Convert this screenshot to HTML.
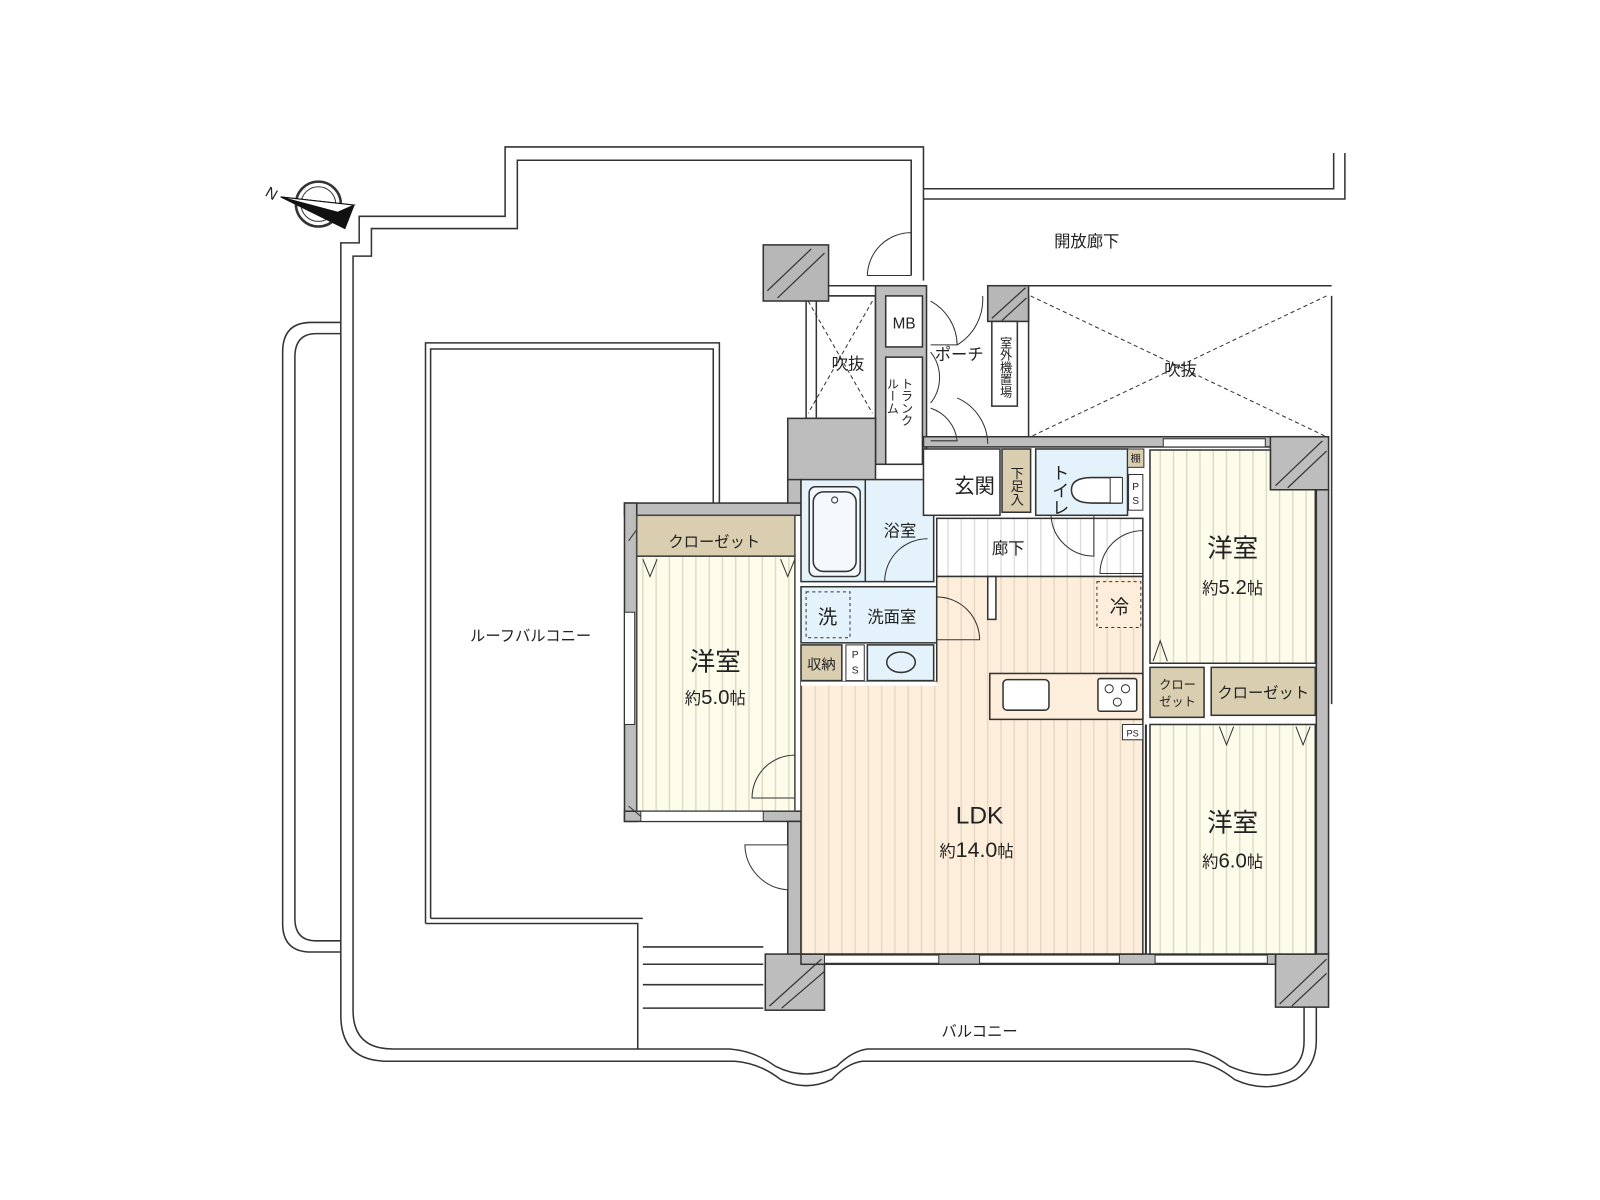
<!DOCTYPE html>
<html><head><meta charset="utf-8">
<style>
html,body{margin:0;padding:0;background:#fff;}
svg{display:block;}
text{font-family:"Liberation Sans","Noto Sans CJK JP",sans-serif;fill:#222;}
</style></head>
<body>
<svg width="1600" height="1200" viewBox="0 0 1600 1200" xmlns="http://www.w3.org/2000/svg">
<defs>
<pattern id="sc" width="13" height="20" patternUnits="userSpaceOnUse"><rect width="13" height="20" fill="#fdfbea"/><line x1="6" y1="0" x2="6" y2="20" stroke="#d9d5c0" stroke-width="1.2"/></pattern>
<pattern id="sp" width="13" height="20" patternUnits="userSpaceOnUse"><rect width="13" height="20" fill="#fdeedb"/><line x1="6" y1="0" x2="6" y2="20" stroke="#e2d3bf" stroke-width="1.2"/></pattern>
<pattern id="sw" width="13" height="20" patternUnits="userSpaceOnUse"><rect width="13" height="20" fill="#fff"/><line x1="6" y1="0" x2="6" y2="20" stroke="#d8d8d8" stroke-width="1.2"/></pattern>
<pattern id="hatch" width="10" height="10" patternUnits="userSpaceOnUse" patternTransform="rotate(45)"><rect width="10" height="10" fill="#bdbdbd"/></pattern>
</defs>
<g transform="scale(1.0204)" stroke="#333" stroke-width="1.5" fill="none">

<!-- compass -->
<circle cx="312" cy="200" r="22" stroke-width="2.5"/>
<circle cx="312" cy="200" r="17" stroke-width="1"/>
<polygon points="275,193 347,201 338,224" fill="#111" stroke="#111" stroke-width="1"/>
<polygon points="275,193 347,201 331,208" fill="#fff" stroke="#111" stroke-width="1"/>
<text x="262" y="192" font-size="15" stroke="none" transform="rotate(30 262 186)">N</text>

<!-- roof balcony outer double line -->
<path d="M905,275 L905,144 L495,144 L495,212 L352,212 L352,238 L334,238 L334,995 Q334,1040 380,1040 L720,1040 Q745,1042 765,1058 Q790,1070 815,1058 Q830,1042 845,1040 L1170,1040 Q1190,1042 1210,1058 Q1240,1072 1270,1058 Q1290,1045 1290,1020 L1290,985"/>
<path d="M893,270 L893,157 L507,157 L507,224 L364,224 L364,251 L346,251 L346,990 Q346,1028 385,1028 L715,1028 Q740,1030 760,1045 Q790,1060 820,1045 Q835,1030 850,1028 L1165,1028 Q1185,1030 1205,1045 Q1240,1060 1265,1048 Q1278,1040 1278,1020 L1278,985"/>
<!-- rail -->
<path d="M334,316 L305,316 Q277,316 277,345 L277,905 Q277,933 305,933 L334,933"/>
<path d="M334,327 L310,327 Q289,327 289,350 L289,900 Q289,922 310,922 L334,922"/>
<!-- inner roof boundary -->
<path d="M417,905 L417,336 L705,336 L705,493"/>
<path d="M422,900 L422,342 L699,342 L699,493"/>
<path d="M417,905 L625,905 L625,1028"/>
<path d="M422,900 L630,900"/>
<line x1="630" y1="928" x2="748" y2="928"/>
<line x1="630" y1="945" x2="748" y2="945"/>
<line x1="630" y1="965" x2="748" y2="965"/>
<line x1="630" y1="988" x2="748" y2="988"/>
<!-- open corridor -->
<path d="M905,185 L1307,185 L1307,150"/>
<path d="M905,195 L1318,195 L1318,150"/>
<line x1="1305" y1="290" x2="1305" y2="690"/>
<line x1="1008" y1="280" x2="1305" y2="280"/>
<line x1="812" y1="280" x2="858" y2="280"/>
<line x1="812" y1="290" x2="858" y2="290"/>
<!-- door arc top -->
<path d="M893,270 L893,228 M893,270 L850,270 A43,43 0 0 1 893,228" stroke-width="1"/>

<!-- voids -->
<rect x="790" y="290" width="68" height="120" fill="#fff"/>
<path d="M792,295 L855,405 M855,295 L792,405" stroke-dasharray="4,3" stroke-width="1"/>
<line x1="800" y1="295" x2="800" y2="410"/>
<path d="M1010,290 L1300,428 M1300,290 L1010,428" stroke-dasharray="4,3" stroke-width="1"/>
<line x1="1008" y1="290" x2="1008" y2="430"/>

<!-- pillars hatched -->
<rect x="748" y="240" width="64" height="55" fill="#b7b7b7"/>
<path d="M752,285 L795,244 M762,292 L808,248" stroke-width="1.2"/>
<rect x="968" y="280" width="40" height="35" fill="#b7b7b7"/>
<path d="M972,312 L1005,282 M982,314 L1006,292" stroke-width="1.2"/>

<!-- walls gray -->
<g fill="#bdbdbd">
<rect x="858" y="280" width="50" height="175"/>
<rect x="772" y="410" width="86" height="65"/>
<rect x="772" y="470" width="13" height="30"/>
<rect x="612" y="493" width="173" height="12"/>
<rect x="612" y="493" width="12" height="312"/>
<rect x="612" y="795" width="175" height="10"/>
<rect x="772" y="805" width="13" height="130"/>
<rect x="905" y="428" width="395" height="10"/>
<rect x="1245" y="428" width="57" height="52"/>
<rect x="1290" y="480" width="12" height="455"/>
<rect x="750" y="935" width="58" height="55"/>
<rect x="1250" y="935" width="52" height="52"/>
<rect x="785" y="935" width="465" height="10"/>
</g>
<path d="M1250,476 L1296,432 M1262,478 L1300,442" stroke-width="1.2"/>
<path d="M754,986 L805,940 M766,988 L808,952" stroke-width="1.2"/>
<path d="M1254,984 L1300,940 M1266,986 L1300,954" stroke-width="1.2"/>
<path d="M616,530 L632,508 M616,790 L628,800" stroke-width="1"/>

<!-- MB, trunk -->
<rect x="868" y="290" width="36" height="50" fill="#fff"/>
<text x="886" y="322" font-size="15" text-anchor="middle" stroke="none">MB</text>
<rect x="868" y="350" width="36" height="105" fill="#fff"/>
<text x="888" y="370" font-size="12" stroke="none" writing-mode="tb">トランク</text>
<text x="874" y="370" font-size="12" stroke="none" writing-mode="tb">ルーム</text>
<path d="M912,295 A50,50 0 0 1 938,338 L912,338 M912,345 A40,40 0 0 1 912,395 M912,400 A38,38 0 0 1 938,432 L912,432" stroke-width="1"/>
<path d="M963,290 A52,52 0 0 1 938,338 M938,390 A50,50 0 0 1 968,435" stroke-width="1"/>
<rect x="972" y="315" width="25" height="83" fill="#fff"/>
<text x="985" y="330" font-size="12" stroke="none" writing-mode="tb">室外機置場</text>
<text x="940" y="353" font-size="16" text-anchor="middle" stroke="none">ポーチ</text>
<text x="831" y="362" font-size="16" text-anchor="middle" stroke="none">吹抜</text>
<text x="1157" y="368" font-size="16" text-anchor="middle" stroke="none">吹抜</text>
<text x="1065" y="242" font-size="16" text-anchor="middle" stroke="none">開放廊下</text>
<text x="520" y="628" font-size="15" text-anchor="middle" stroke="none">ルーフバルコニー</text>
<text x="960" y="1016" font-size="15" text-anchor="middle" stroke="none">バルコニー</text>

<!-- bedroom 5.0 -->
<rect x="624" y="545" width="155" height="250" fill="url(#sc)" stroke="#444"/>
<rect x="624" y="505" width="155" height="40" fill="#d9ceb0" stroke="#444"/>
<text x="700" y="536" font-size="15" text-anchor="middle" stroke="none">クローゼット</text>
<path d="M630,548 L637,565 L644,548 M765,548 L772,565 L779,548" stroke-width="1"/>
<rect x="612" y="600" width="10" height="110" fill="#fff" stroke-width="1"/>
<rect x="628" y="795" width="120" height="10" fill="#fff" stroke-width="1"/>
<path d="M779,740 A42,42 0 0 0 737,782 L779,782" stroke-width="1"/>
<path d="M730,828 A45,45 0 0 0 772,872 L772,828 Z" fill="#fff" stroke-width="1"/>
<text x="701" y="657" font-size="25" text-anchor="middle" stroke="none">洋室</text>
<text x="701" y="690" font-size="16" text-anchor="middle" stroke="none">約<tspan font-size="20">5.0</tspan>帖</text>

<!-- bath -->
<rect x="785" y="470" width="130" height="100" fill="#e4f2fb"/>
<rect x="793" y="477" width="50" height="88" rx="6" fill="#f3f9fd"/>
<rect x="797" y="482" width="42" height="78" rx="10"/>
<circle cx="818" cy="490" r="3" stroke-width="1"/>
<line x1="848" y1="470" x2="848" y2="570"/>
<text x="882" y="526" font-size="16" text-anchor="middle" stroke="none">浴室</text>
<path d="M909,528 A42,42 0 0 0 867,570 L909,570" stroke-width="1"/>
<!-- wash -->
<rect x="785" y="575" width="133" height="55" fill="#e4f2fb"/>
<rect x="790" y="580" width="43" height="45" stroke-dasharray="3,3" stroke-width="1"/>
<text x="811" y="611" font-size="19" text-anchor="middle" stroke="none">洗</text>
<text x="874" y="610" font-size="16" text-anchor="middle" stroke="none">洗面室</text>
<rect x="785" y="632" width="40" height="35" fill="#d9ceb0"/>
<text x="805" y="656" font-size="14" text-anchor="middle" stroke="none">収納</text>
<rect x="829" y="632" width="18" height="35" fill="#fff" stroke-width="1"/>
<text x="838" y="645" font-size="10" text-anchor="middle" stroke="none">P</text>
<text x="838" y="660" font-size="10" text-anchor="middle" stroke="none">S</text>
<rect x="850" y="632" width="65" height="35" fill="#e4f2fb"/>
<ellipse cx="883" cy="649" rx="14" ry="10"/>
<path d="M790,670 L790,688 M820,670 L820,688 M790,670 Q805,678 805,688 M820,670 Q805,678 805,688" stroke-width="1"/>

<!-- entrance -->
<rect x="905" y="440" width="75" height="65" fill="#fff"/>
<text x="955" y="483" font-size="20" text-anchor="middle" stroke="none">玄関</text>
<rect x="982" y="440" width="28" height="62" fill="#d9ceb0"/>
<text x="996" y="457" font-size="13" stroke="none" writing-mode="tb" text-anchor="start">下足入</text>
<rect x="1015" y="440" width="90" height="65" fill="#e4f2fb"/>
<text x="1038" y="455" font-size="17" stroke="none" writing-mode="tb">トイレ</text>
<path d="M1098,468 L1070,468 Q1050,468 1050,480 Q1050,493 1070,493 L1098,493 Z" fill="#fff"/>
<rect x="1088" y="468" width="12" height="25" fill="#fff" stroke-width="1"/>
<rect x="1105" y="440" width="16" height="18" fill="#d9ceb0" stroke-width="1"/>
<text x="1113" y="453" font-size="10" text-anchor="middle" stroke="none">棚</text>
<rect x="1106" y="465" width="14" height="35" fill="#fff" stroke-width="1"/>
<text x="1113" y="480" font-size="10" text-anchor="middle" stroke="none">P</text>
<text x="1113" y="494" font-size="10" text-anchor="middle" stroke="none">S</text>
<!-- corridor -->
<rect x="918" y="508" width="202" height="57" fill="url(#sw)"/>
<text x="988" y="543" font-size="16" text-anchor="middle" stroke="none">廊下</text>
<path d="M1030,505 A42,42 0 0 0 1072,545 L1072,505" stroke-width="1"/>
<path d="M1120,520 A42,42 0 0 0 1078,562 L1120,562" stroke-width="1"/>

<!-- LDK -->
<path d="M785,668 L918,668 L918,565 L1120,565 L1120,935 L785,935 Z" fill="url(#sp)"/>
<rect x="785" y="668" width="133" height="4" fill="#fff" stroke="none"/>
<rect x="968" y="565" width="8" height="42" fill="#fff"/>
<path d="M918,585 A42,42 0 0 1 960,627 L918,627" stroke-width="1"/>
<rect x="1075" y="570" width="43" height="45" stroke-dasharray="3,3" stroke-width="1" fill="#fdeedb"/>
<text x="1097" y="601" font-size="19" text-anchor="middle" stroke="none">冷</text>
<rect x="970" y="660" width="150" height="45" fill="#fdeedb"/>
<rect x="983" y="666" width="45" height="30" rx="4" fill="#fff"/>
<rect x="1076" y="665" width="38" height="32" rx="2" fill="#fff"/>
<circle cx="1087" cy="675" r="4" stroke-width="1"/><circle cx="1103" cy="675" r="4" stroke-width="1"/><circle cx="1095" cy="688" r="4" stroke-width="1"/>
<rect x="1100" y="710" width="20" height="15" fill="#fff" stroke-width="1"/>
<text x="1110" y="722" font-size="9" text-anchor="middle" stroke="none">PS</text>
<text x="960" y="807" font-size="24" text-anchor="middle" stroke="none">LDK</text>
<text x="957" y="840" font-size="16" text-anchor="middle" stroke="none">約<tspan font-size="21">14.0</tspan>帖</text>
<rect x="808" y="936" width="112" height="8" fill="#fff" stroke-width="1"/>
<rect x="960" y="936" width="137" height="8" fill="#fff" stroke-width="1"/>
<rect x="1132" y="936" width="110" height="8" fill="#fff" stroke-width="1"/>

<!-- bedroom 5.2 -->
<path d="M1127,441 L1245,441 L1245,480 L1289,480 L1289,650 L1127,650 Z" fill="url(#sc)"/>
<rect x="1140" y="430" width="100" height="8" fill="#fff" stroke-width="1"/>
<path d="M1130,648 L1137,628 L1144,648" stroke-width="1"/>
<text x="1208" y="546" font-size="25" text-anchor="middle" stroke="none">洋室</text>
<text x="1208" y="582" font-size="16" text-anchor="middle" stroke="none">約<tspan font-size="20">5.2</tspan>帖</text>
<rect x="1127" y="654" width="53" height="49" fill="#d9ceb0"/>
<text x="1154" y="675" font-size="12" text-anchor="middle" stroke="none">クロー</text>
<text x="1154" y="692" font-size="12" text-anchor="middle" stroke="none">ゼット</text>
<rect x="1187" y="654" width="102" height="47" fill="#d9ceb0"/>
<text x="1238" y="684" font-size="15" text-anchor="middle" stroke="none">クローゼット</text>
<!-- bedroom 6.0 -->
<rect x="1127" y="710" width="162" height="225" fill="url(#sc)"/>
<path d="M1195,712 L1202,730 L1209,712 M1270,712 L1277,730 L1284,712" stroke-width="1"/>
<line x1="1123" y1="710" x2="1123" y2="935" stroke-width="2"/>
<text x="1208" y="815" font-size="25" text-anchor="middle" stroke="none">洋室</text>
<text x="1208" y="850" font-size="16" text-anchor="middle" stroke="none">約<tspan font-size="20">6.0</tspan>帖</text>
</g>
</svg>
</body></html>
